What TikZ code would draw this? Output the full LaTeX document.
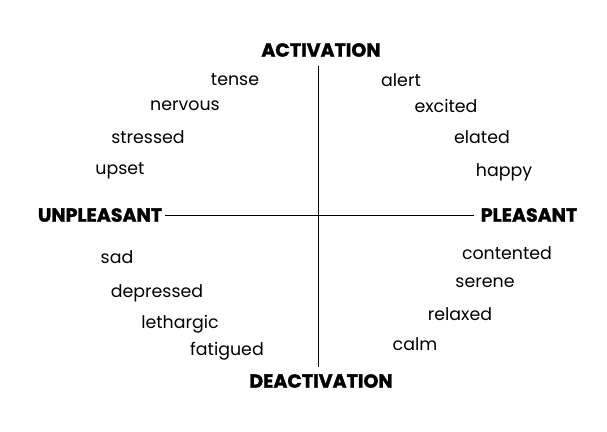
\documentclass[tikz,border=0pt]{standalone}
\usepackage{fontspec}
\setmainfont{Poppins}[BoldFeatures={FakeBold=1.5}]
\usepackage{tikz}

\begin{document}
\begin{tikzpicture}[
  x=1pt, y=-1pt,
  word/.style={inner sep=0pt, font=\fontsize{17.4}{20}\selectfont},
  pole/.style={inner sep=3pt, font=\fontsize{19}{22}\selectfont\bfseries},
  axis/.style={line width=0.9pt}
]
\useasboundingbox (0,0) rectangle (607,431);

% axis labels
\node[pole] (act) at (321,50) {ACTIVATION};
\node[pole] (deact) at (321,381) {DEACTIVATION};
\node[pole] (unpl) at (100,215) {UNPLEASANT};
\node[pole] (pleas) at (529,215) {PLEASANT};

% axes
\draw[axis] ([xshift=-3pt,yshift=-6pt]act.south) -- ([xshift=-3pt,yshift=4pt]deact.north);
\draw[axis] (unpl.east) -- ([xshift=-4pt]pleas.west);

% activated, unpleasant
\node[word] (tense) at (235,80) {tense};
\node[word] (nervous) at (185,106) {nervous};
\node[word] (stressed) at (148,137) {stressed};
\node[word] (upset) at (120,171) {upset};

% activated, pleasant
\node[word] (alert) at (401,80) {alert};
\node[word] (excited) at (446,106) {excited};
\node[word] (elated) at (482,137) {elated};
\node[word] (happy) at (504,172) {happy};

% deactivated, unpleasant
\node[word] (sad) at (117,257) {sad};
\node[word] (depressed) at (157,293) {depressed};
\node[word] (lethargic) at (180,324) {lethargic};
\node[word] (fatigued) at (227,351) {fatigued};

% deactivated, pleasant
\node[word] (contented) at (507,253) {contented};
\node[word] (serene) at (485,283) {serene};
\node[word] (relaxed) at (460,314) {relaxed};
\node[word] (calm) at (415,344) {calm};
\end{tikzpicture}
\end{document}
